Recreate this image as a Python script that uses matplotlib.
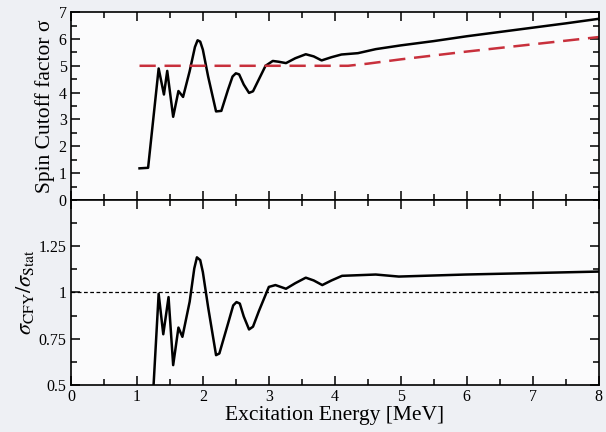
import matplotlib
matplotlib.use("Agg")
import matplotlib.pyplot as plt
from matplotlib.ticker import MultipleLocator

plt.rcParams["font.family"] = ["Liberation Serif", "DejaVu Serif"]
plt.rcParams["mathtext.fontset"] = "stix"
plt.rcParams["lines.solid_joinstyle"] = "round"

# spin cutoff factor from CFY (solid) and statistical estimate (dashed)
e_cfy = [1.04, 1.17, 1.33, 1.41, 1.46, 1.55, 1.63, 1.70, 1.80, 1.88, 1.92, 1.96,
         2.0, 2.08, 2.20, 2.28, 2.38, 2.45, 2.50, 2.55, 2.62, 2.70, 2.76, 2.85,
         2.95, 3.06, 3.15, 3.26, 3.40, 3.56, 3.68, 3.80, 3.95, 4.10, 4.35, 4.62,
         5.0, 5.5, 6.0, 6.5, 7.0, 7.5, 8.0]
sig_cfy = [1.18, 1.2, 4.9, 3.93, 4.81, 3.1, 4.06, 3.84, 4.8, 5.7, 5.95, 5.9,
           5.6, 4.6, 3.3, 3.32, 4.1, 4.6, 4.72, 4.68, 4.3, 3.99, 4.05, 4.5,
           5.0, 5.18, 5.15, 5.1, 5.28, 5.43, 5.35, 5.2, 5.32, 5.42, 5.47, 5.62,
           5.76, 5.92, 6.1, 6.26, 6.42, 6.58, 6.75]

e_stat = [1.04, 2.0, 3.0, 4.2, 4.5, 5.0, 6.0, 7.0, 8.0]
sig_stat = [5.0, 5.0, 5.0, 5.0, 5.08, 5.24, 5.53, 5.8, 6.07]

# ratio sigma_CFY / sigma_Stat
e_ratio = [1.25, 1.33, 1.40, 1.48, 1.55, 1.63, 1.69, 1.80, 1.87, 1.91, 1.96,
           2.0, 2.08, 2.20, 2.25, 2.38, 2.46, 2.51, 2.56, 2.62, 2.70, 2.76,
           2.85, 3.0, 3.1, 3.26, 3.40, 3.56, 3.68, 3.81, 3.95, 4.11, 4.62, 4.97,
           5.98, 7.0, 8.0]
ratio = [0.48, 0.993, 0.774, 0.975, 0.607, 0.81, 0.76, 0.95, 1.13, 1.19, 1.175,
         1.11, 0.92, 0.661, 0.67, 0.83, 0.93, 0.948, 0.94, 0.87, 0.8, 0.815,
         0.9, 1.03, 1.04, 1.02, 1.05, 1.08, 1.065, 1.04, 1.065, 1.09, 1.097,
         1.086, 1.097, 1.105, 1.113]

fig = plt.figure(figsize=(6.06, 4.32), dpi=100, facecolor="#eef0f4")
ax1 = fig.add_axes([0.117, 0.537, 0.871, 0.435])
ax2 = fig.add_axes([0.117, 0.109, 0.871, 0.428], sharex=ax1)

ax1.plot(e_cfy, sig_cfy, color="black", lw=1.8)
ax1.plot(e_stat, sig_stat, color="#c8303c", lw=1.8, dashes=(6.5, 3.5))
ax1.set_ylim(0, 7)
ax1.set_ylabel("Spin Cutoff factor σ", fontsize=15.5, labelpad=3)
ax1.yaxis.set_major_locator(MultipleLocator(1))
ax1.yaxis.set_minor_locator(MultipleLocator(0.5))
ax1.tick_params(labelbottom=False)

ax2.plot(e_ratio, ratio, color="black", lw=1.8)
ax2.axhline(1.0, color="black", lw=0.9, dashes=(3, 2))
ax2.set_ylim(0.5, 1.5)
ax2.set_xlim(0, 8)
ax2.set_yticks([0.5, 0.75, 1.0, 1.25])
ax2.set_yticklabels(["0.5", "0.75", "1", "1.25"])
ax2.yaxis.set_minor_locator(MultipleLocator(0.125))
ax2.set_ylabel(r"$\sigma_{\rm CFY}/\sigma_{\rm Stat}$", fontsize=16, labelpad=2)
ax2.set_xlabel("Excitation Energy [MeV]", fontsize=15.5, labelpad=1)
ax2.xaxis.set_major_locator(MultipleLocator(1))
ax2.xaxis.set_minor_locator(MultipleLocator(0.5))

for ax in (ax1, ax2):
    ax.set_facecolor("#fbfbfc")
    for sp in ax.spines.values():
        sp.set_linewidth(1.2)
    ax.tick_params(which="both", direction="in", top=True, right=True,
                   labelsize=11.5, width=1.1, pad=3)
    ax.tick_params(which="major", length=6.5)
    ax.tick_params(which="minor", length=4)

fig.savefig("out.png", dpi=100, facecolor=fig.get_facecolor())
